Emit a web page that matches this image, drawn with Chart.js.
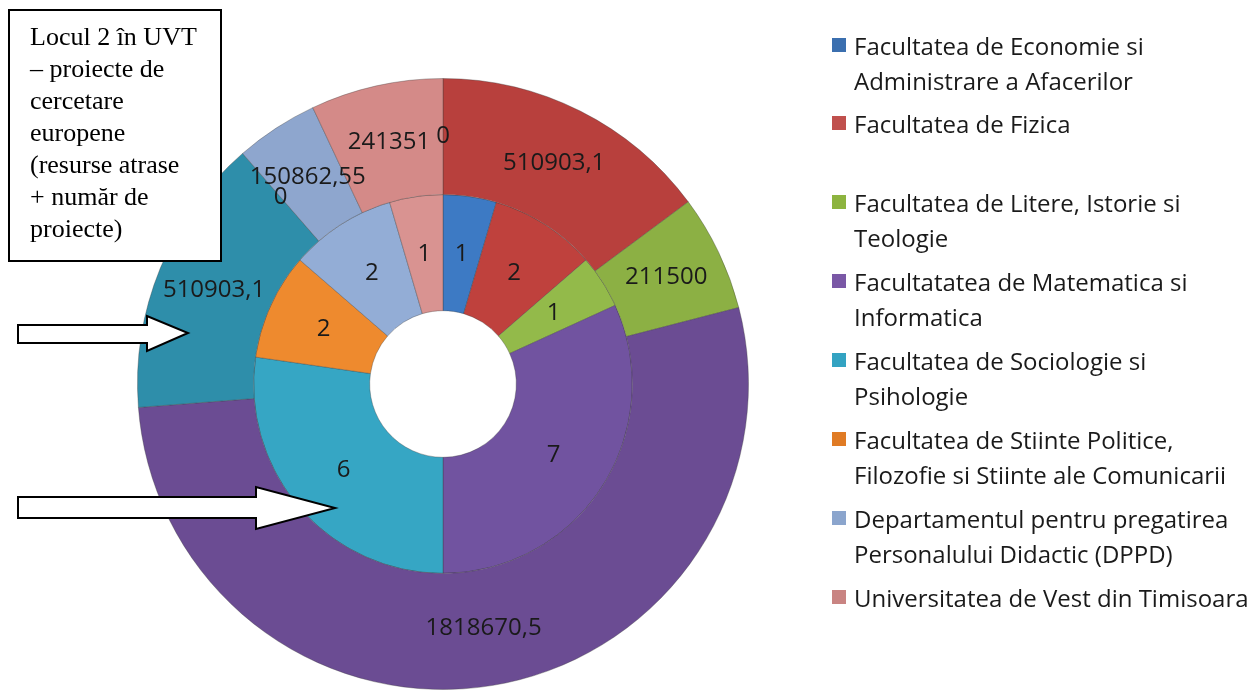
<!DOCTYPE html>
<html>
<head>
<meta charset="utf-8">
<script src="https://cdn.jsdelivr.net/npm/chart.js@4"></script>
<style>
  html, body { margin: 0; padding: 0; background: #fff; }
  #wrap { position: relative; width: 1259px; height: 690px; overflow: hidden; }
  #myChart { position: absolute; left: 0; top: 0; }
  #note {
    position: absolute; left: 8px; top: 9px; width: 210px; height: 249px;
    border: 2px solid #000; background: #fff; box-sizing: content-box;
    font-family: "Liberation Serif", "DejaVu Serif", serif; font-size: 26px;
    line-height: 32px; padding: 0; color: #000;
  }
  #note div { position: absolute; left: 20px; top: 10px; width: 200px; }
  #legend { position: absolute; left: 0; top: 0; font-family: "Open Sans", sans-serif; font-size: 24px; color: #1a1a1a; }
  .item { position: absolute; left: 832px; white-space: nowrap; }
  .box { position: absolute; left: 0; width: 14px; height: 14px; }
  .txt { position: absolute; left: 22px; line-height: 35px; }
  svg { position: absolute; left: 0; top: 0; }
</style>
</head>
<body>
<div id="wrap">
  <canvas id="myChart" width="1259" height="690"></canvas>
  <svg width="1259" height="690">
    <polygon points="18,325 147,325 147,316 188,333 147,351 147,343 18,343" fill="#fff" stroke="#000" stroke-width="2"/>
    <polygon points="18,497 256,497 256,487 335,508 256,529 256,518 18,518" fill="#fff" stroke="#000" stroke-width="2"/>
  </svg>
  <div id="note"><div>Locul 2 în UVT<br>– proiecte de<br>cercetare<br>europene<br>(resurse atrase<br>+ număr de<br>proiecte)</div></div>
  <div id="legend"></div>
</div>
<script>
const categories = [
    ['Facultatea de Economie si', 'Administrare a Afacerilor'],
    ['Facultatea de Fizica'],
    ['Facultatea de Litere, Istorie si', 'Teologie'],
    ['Facultatatea de Matematica si', 'Informatica'],
    ['Facultatea de Sociologie si', 'Psihologie'],
    ['Facultatea de Stiinte Politice,', 'Filozofie si Stiinte ale Comunicarii'],
    ['Departamentul pentru pregatirea', 'Personalului Didactic (DPPD)'],
    ['Universitatea de Vest din Timisoara']
];
// outer ring: resurse atrase
const resurse = [0, 510903.1, 211500, 1818670.5, 510903.1, 0, 150862.55, 241351];
// inner ring: numar de proiecte
const proiecte = [1, 2, 1, 7, 6, 2, 2, 1];

const outerColors = ['#3F73B3', '#B8403D', '#8CB044', '#6B4C93', '#2E8EAA', '#E5802A', '#8EA6CE', '#D48A88'];
const innerColors = ['#3D7AC4', '#BF413D', '#93BA4A', '#7153A0', '#36A6C4', '#EE8A2E', '#93ADD6', '#D99391'];
const legendColors = ['#3B6FAF', '#C0504D', '#8DB43F', '#7A58A6', '#33A3C2', '#E07B24', '#8BA5CD', '#C98482'];

function fmt(v) {
    return String(v).replace('.', ',');
}

const labelPlugin = {
    id: 'arcLabels',
    afterDatasetsDraw(chart) {
        const ctx = chart.ctx;
        ctx.save();
        ctx.font = '24px "Open Sans", sans-serif';
        ctx.fillStyle = '#1a1a1a';
        ctx.textAlign = 'center';
        ctx.textBaseline = 'middle';
        chart.data.datasets.forEach((ds, i) => {
            const meta = chart.getDatasetMeta(i);
            meta.data.forEach((arc, j) => {
                const pos = arc.tooltipPosition();
                ctx.fillText(fmt(ds.data[j]), pos.x, pos.y);
            });
        });
        ctx.restore();
    }
};

const ctx = document.getElementById('myChart').getContext('2d');
const myChart = new Chart(ctx, {
    type: 'doughnut',
    data: {
        labels: categories,
        datasets: [{
            label: 'Resurse atrase',
            data: resurse,
            backgroundColor: outerColors,
            borderColor: 'rgba(60,60,60,0.35)',
            borderWidth: 1
        }, {
            label: 'Numar de proiecte',
            data: proiecte,
            backgroundColor: innerColors,
            borderColor: 'rgba(60,60,60,0.35)',
            borderWidth: 1
        }]
    },
    options: {
        responsive: false,
        animation: false,
        cutout: '24%',
        layout: { padding: { left: 137, right: 510, top: 78, bottom: 0 } },
        plugins: {
            legend: { display: false },
            tooltip: { enabled: false }
        }
    },
    plugins: [labelPlugin]
});

// html legend, one fixed slot per category
const legend = document.getElementById('legend');
categories.forEach((lines, i) => {
    const item = document.createElement('div');
    item.className = 'item';
    item.style.top = (45 + i * 78.86 - 17.5) + 'px';
    const box = document.createElement('div');
    box.className = 'box';
    box.style.top = '10px';
    box.style.background = legendColors[i];
    const txt = document.createElement('div');
    txt.className = 'txt';
    txt.innerHTML = lines.join('<br>');
    item.appendChild(box);
    item.appendChild(txt);
    legend.appendChild(item);
});
</script>
</body>
</html>
